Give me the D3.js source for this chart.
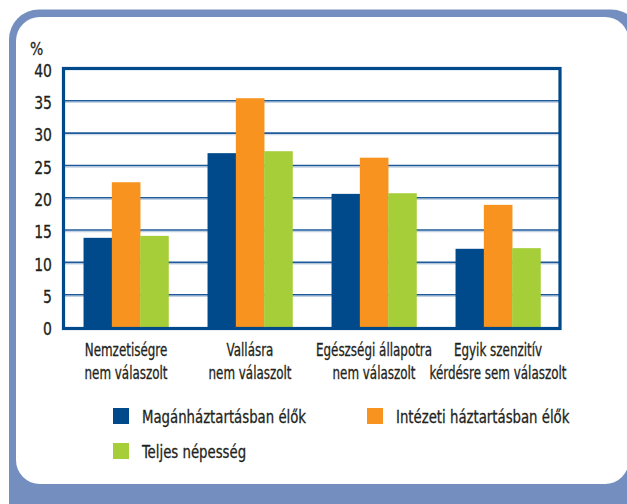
<!DOCTYPE html>
<html><head><meta charset="utf-8">
<script src="https://cdn.jsdelivr.net/npm/d3@7"></script>
<style>
html,body{margin:0;padding:0;background:#fff;}
text{font-family:"DejaVu Sans Condensed","DejaVu Sans",sans-serif;fill:#231f20;stroke:#231f20;stroke-width:0.3px;}
</style></head>
<body>
<svg id="c" width="627" height="504"></svg>
<script>
const categories = [
  ["Nemzetiségre","nem válaszolt"],
  ["Vallásra","nem válaszolt"],
  ["Egészségi állapotra","nem válaszolt"],
  ["Egyik szenzitív","kérdésre sem válaszolt"]
];
const seriesNames = ["Magánháztartásban élők","Intézeti háztartásban élők","Teljes népesség"];
const seriesColors = ["#004a8c","#f7931e","#a6ce39"];
const privateHH = [13.8, 26.9, 20.6, 12.1];
const institutionalHH = [22.4, 35.4, 26.2, 18.9];
const totalPop = [14.1, 27.2, 20.7, 12.2];
const yTicks = [0,5,10,15,20,25,30,35,40];
const unitLabel = "%";

(function(){
const seriesValues = [privateHH, institutionalHH, totalPop];
const svg = d3.select("#c");
const SX = 0.78;

// card background
svg.append("rect").attr("x",9).attr("y",9.5).attr("width",632).attr("height",530).attr("rx",30).attr("fill","#748fbf");
svg.append("rect").attr("x",16).attr("y",17).attr("width",613).attr("height",467).attr("rx",24).attr("fill","#fff");

const pL = 64, pR = 560, pT = 68.5, pB = 327;
const catIdx = d3.range(categories.length);
const x0 = d3.scaleBand().domain(catIdx).range([pL, pR]).padding(0);
const x1 = d3.scaleBand().domain(d3.range(seriesNames.length)).range([0, x0.bandwidth()]).paddingInner(0).paddingOuter(0.69);
const y = d3.scaleLinear().domain([0, 40]).range([pB, pT]);

// gridlines
const g = svg.append("g");
yTicks.filter(t => t > 0 && t < 40).forEach(t => {
  g.append("line").attr("x1", pL).attr("x2", pR).attr("y1", y(t)+1.6).attr("y2", y(t)+1.6)
    .attr("stroke", "#c3d1e4").attr("stroke-width", 1.2);
  g.append("line").attr("x1", pL).attr("x2", pR).attr("y1", y(t)).attr("y2", y(t))
    .attr("stroke", "#1d5a9a").attr("stroke-width", 1.6);
});

// bars
const bars = svg.append("g");
catIdx.forEach(ci => {
  seriesValues.forEach((vals, si) => {
    bars.append("rect")
      .attr("x", x0(ci) + x1(si))
      .attr("y", y(vals[ci]))
      .attr("width", x1.bandwidth() + 0.3)
      .attr("height", y(0) - y(vals[ci]))
      .attr("fill", seriesColors[si]);
  });
});

// frame
svg.append("rect").attr("x", pL - 0.5).attr("y", pT).attr("width", pR - pL + 0.5).attr("height", pB - pT + 1.5)
  .attr("fill", "none").attr("stroke", "#004a8c").attr("stroke-width", 3.2);

// y axis
const yAxis = d3.axisLeft(y).tickValues(yTicks).tickSize(0).tickPadding(0);
const ya = svg.append("g").attr("transform", "translate(52,1)").call(yAxis);
ya.select(".domain").remove();
ya.selectAll("text").style("font-size","18.5px").style("font-family","'DejaVu Sans Condensed',sans-serif")
  .attr("fill","#231f20").attr("dy","0.36em").attr("x",0)
  .attr("transform","scale(0.84,1)");

svg.append("text").attr("transform","translate(30,55) scale(0.84,1)").style("font-size","18.5px").text(unitLabel);

// category labels
catIdx.forEach(ci => {
  const cx = x0(ci) + x0.bandwidth()/2;
  const t = svg.append("text").attr("text-anchor","middle").style("font-size","17px")
    .attr("transform", `translate(${cx},0) scale(${SX},1)`);
  categories[ci].forEach((line, li) => {
    t.append("tspan").attr("x", 0).attr("y", 356 + li*23.5).text(line);
  });
});

// legend
const legendPos = [[113,408],[367,408],[113,443]];
seriesNames.forEach((name, si) => {
  const [lx, ly] = legendPos[si];
  svg.append("rect").attr("x", lx).attr("y", ly).attr("width", 16).attr("height", 16).attr("fill", seriesColors[si]);
  svg.append("text").attr("transform", `translate(${lx + 29},${ly + 15}) scale(0.83,1)`)
    .style("font-size","17.8px").text(name);
});
})();
</script>
</body></html>
